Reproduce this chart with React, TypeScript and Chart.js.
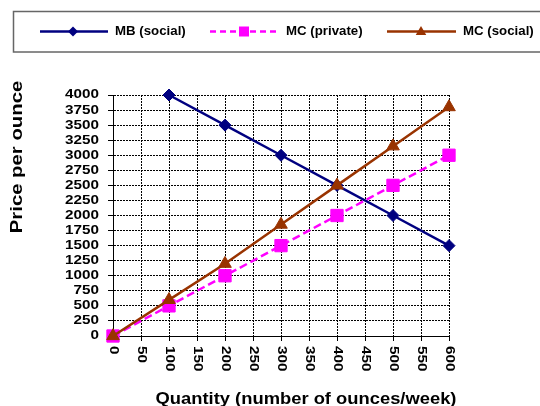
import React, { useEffect, useRef } from 'react';
import { Chart, registerables } from 'chart.js';

Chart.register(...registerables);

// ---- data ----
const mbQuantities = [100, 200, 300, 400, 500, 600];
const mbSocial = [4000, 3500, 3000, 2500, 2000, 1500];
const mcQuantities = [0, 100, 200, 300, 400, 500, 600];
const mcPrivate = [0, 500, 1000, 1500, 2000, 2500, 3000];
const mcSocial = [0, 600, 1200, 1850, 2500, 3150, 3800];
const xTickLabels = [0, 50, 100, 150, 200, 250, 300, 350, 400, 450, 500, 550, 600];
const yTickLabels = [0, 250, 500, 750, 1000, 1250, 1500, 1750, 2000, 2250, 2500, 2750, 3000, 3250, 3500, 3750, 4000];
const seriesNames = ['MB (social)', 'MC (private)', 'MC (social)'];
const xTitle = 'Quantity (number of ounces/week)';
const yTitle = 'Price per ounce';

const NAVY = '#000080';
const MAGENTA = '#FF00FF';
const BROWN = '#993300';
const FONT = '"Liberation Sans", Arial, Helvetica, sans-serif';

function txt(ctx: CanvasRenderingContext2D, s: string, x: number, y: number, size: number, sx: number,
  align: CanvasTextAlign, baseline: CanvasTextBaseline, rot: number) {
  ctx.save();
  ctx.translate(x, y);
  ctx.rotate(rot);
  ctx.scale(sx, 1);
  ctx.font = `bold ${size}px ${FONT}`;
  ctx.textAlign = align;
  ctx.textBaseline = baseline;
  ctx.fillStyle = '#000';
  ctx.fillText(s, 0, 0);
  ctx.restore();
}

function marker(ctx: CanvasRenderingContext2D, kind: string, x: number, y: number, color: string) {
  ctx.save();
  ctx.fillStyle = color;
  ctx.setLineDash([]);
  ctx.beginPath();
  if (kind === 'diamond') {
    const r = 5;
    ctx.moveTo(x - r, y); ctx.lineTo(x, y - r); ctx.lineTo(x + r, y); ctx.lineTo(x, y + r);
  } else if (kind === 'square') {
    const s = 10;
    ctx.rect(x - s / 2, y - s / 2, s, s);
  } else {
    const w = 10.5, h = 9;
    ctx.moveTo(x, y - h / 2 - 1); ctx.lineTo(x + w / 2, y + h / 2 - 1); ctx.lineTo(x - w / 2, y + h / 2 - 1);
  }
  ctx.closePath();
  ctx.fill();
  ctx.restore();
}

const legendLayout = [
  { color: NAVY, dash: [] as number[], kind: 'diamond', x0: 40, x1: 108, mx: 73, tx: 115 },
  { color: MAGENTA, dash: [6, 4], kind: 'square', x0: 210, x1: 279, mx: 244, tx: 286 },
  { color: BROWN, dash: [] as number[], kind: 'triangle', x0: 387, x1: 456, mx: 421, tx: 463 },
];

const textPlugin = {
  id: 'customText',
  afterDraw(chart: any) {
    const ctx: CanvasRenderingContext2D = chart.ctx;
    const xs = chart.scales.x;
    const ys = chart.scales.y;
    yTickLabels.forEach((v) => txt(ctx, String(v), 99, ys.getPixelForValue(v), 12.5, 1.22, 'right', 'middle', 0));
    xTickLabels.forEach((v) => txt(ctx, String(v), xs.getPixelForValue(v), 346, 12.5, 1.22, 'left', 'middle', Math.PI / 2));
    txt(ctx, xTitle, 306, 404, 17, 1.08, 'center', 'alphabetic', 0);
    txt(ctx, yTitle, 21.5, 157, 16, 1.27, 'center', 'alphabetic', -Math.PI / 2);

    // legend box
    ctx.save();
    ctx.strokeStyle = '#666';
    ctx.lineWidth = 1.5;
    ctx.strokeRect(13.5, 11.5, 560, 40.5);
    ctx.restore();
    const ly = 31.5;
    legendLayout.forEach((it, i) => {
      ctx.save();
      ctx.strokeStyle = it.color;
      ctx.lineWidth = 2.5;
      ctx.setLineDash(it.dash);
      ctx.beginPath();
      ctx.moveTo(it.x0, ly);
      ctx.lineTo(it.x1, ly);
      ctx.stroke();
      ctx.restore();
      marker(ctx, it.kind, it.mx, ly, it.color);
      txt(ctx, seriesNames[i], it.tx, ly, 13, 1.02, 'left', 'middle', 0);
    });
  },
};

function makeDataset(label: string, xv: number[], yv: number[], color: string, style: string,
  radius: number, dash: number[], order: number) {
  return {
    label,
    data: xv.map((x, i) => ({ x, y: yv[i] })),
    borderColor: color,
    backgroundColor: color,
    borderWidth: 2.5,
    borderDash: dash,
    pointStyle: style,
    pointRadius: radius,
    pointHoverRadius: radius,
    pointBorderWidth: 1,
    pointBackgroundColor: color,
    pointBorderColor: color,
    clip: false,
    order,
    tension: 0,
    fill: false,
  };
}

export default function App() {
  const ref = useRef<HTMLCanvasElement>(null);
  useEffect(() => {
    if (!ref.current) return;
    const gridCommon = {
      color: '#000',
      lineWidth: 1,
      tickLength: 5,
      tickColor: '#000',
      drawTicks: true,
    };
    const borderCommon = { display: true, color: '#000', width: 1, dash: [2, 1] };
    const chart = new Chart(ref.current, {
      type: 'line',
      data: {
        datasets: [
          makeDataset(seriesNames[0], mbQuantities, mbSocial, NAVY, 'rectRot', 6, [], 3),
          makeDataset(seriesNames[1], mcQuantities, mcPrivate, MAGENTA, 'rect', 8.7, [8, 4], 2),
          makeDataset(seriesNames[2], mcQuantities, mcSocial, BROWN, 'triangle', 7.3, [], 1),
        ] as any,
      },
      options: {
        animation: false,
        responsive: false,
        events: [],
        layout: { padding: { top: 95, right: 91, left: 0, bottom: 0 } },
        plugins: {
          legend: { display: false },
          tooltip: { enabled: false },
          title: { display: false },
        },
        scales: {
          x: {
            type: 'linear',
            min: 0,
            max: 600,
            ticks: { stepSize: 50, display: false, autoSkip: false },
            grid: gridCommon,
            border: borderCommon,
            afterFit: (s: any) => { s.height = 70; },
          },
          y: {
            type: 'linear',
            min: 0,
            max: 4000,
            ticks: { stepSize: 250, display: false, autoSkip: false },
            grid: gridCommon,
            border: borderCommon,
            afterFit: (s: any) => { s.width = 113; },
          },
        },
      } as any,
      plugins: [textPlugin],
    });
    return () => chart.destroy();
  }, []);
  return (
    <div style={{ position: 'absolute', left: 0, top: 0, width: 540, height: 406, background: '#fff' }}>
      <canvas ref={ref} width={540} height={406} style={{ display: 'block' }} />
    </div>
  );
}
